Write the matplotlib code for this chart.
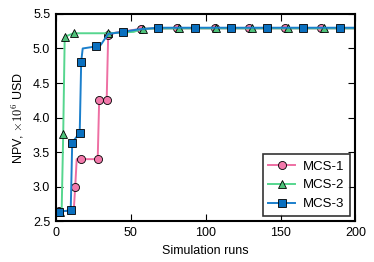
import numpy as np
import matplotlib
matplotlib.use("Agg")
import matplotlib.pyplot as plt

plt.rcParams['font.family'] = ['Liberation Sans', 'DejaVu Sans']
plt.rcParams['mathtext.fontset'] = 'cm'
plt.rcParams['font.size'] = 9

# best-so-far NPV curves (simulation run, NPV x 1e6 USD)
mcs1_runs = [2, 12, 13, 14, 17, 28, 29, 34, 35, 40, 57, 81, 106, 129, 153, 177, 200]
mcs1_npv = [2.65, 2.65, 3.00, 3.40, 3.40, 3.40, 4.26, 4.26, 5.19, 5.23, 5.285, 5.29, 5.29, 5.29, 5.29, 5.29, 5.29]
mcs1_marked = [2, 13, 17, 28, 29, 34, 35, 57, 81, 106, 129, 153, 177]

mcs2_runs = [3, 4, 5, 6, 12, 35, 52, 58, 82, 107, 131, 155, 179, 200]
mcs2_npv = [2.64, 2.70, 3.77, 5.17, 5.22, 5.22, 5.24, 5.285, 5.29, 5.29, 5.29, 5.29, 5.29, 5.29]
mcs2_marked = [3, 5, 6, 12, 35, 58, 82, 107, 131, 155, 179]

mcs3_runs = [2, 10, 11, 16, 17, 18, 27, 30, 35, 45, 55, 68, 93, 117, 141, 165, 190, 200]
mcs3_npv = [2.64, 2.66, 3.64, 3.78, 4.81, 5.00, 5.03, 5.05, 5.21, 5.24, 5.275, 5.30, 5.30, 5.30, 5.30, 5.30, 5.30, 5.30]
mcs3_marked = [2, 10, 11, 16, 17, 27, 45, 68, 93, 117, 141, 165, 190]

labels = ['MCS-1', 'MCS-2', 'MCS-3']


def plot_curves():
    fig = plt.figure(figsize=(3.74, 2.62), dpi=100)
    ax = fig.add_axes([0.149, 0.155, 0.8015, 0.792])

    series = [
        (mcs1_runs, mcs1_npv, mcs1_marked, 'o', '#f279ab', '#ee6fa3'),
        (mcs2_runs, mcs2_npv, mcs2_marked, '^', '#4fc27a', '#56d68e'),
        (mcs3_runs, mcs3_npv, mcs3_marked, 's', '#0a70c0', '#1b7fcc'),
    ]
    for (runs, npv, marked, mk, face, line), label in zip(series, labels):
        idx = [i for i, r in enumerate(runs) if r in marked]
        ax.plot(runs, npv, color=line, lw=1.4, marker=mk, markevery=idx,
                markersize=5.8, markerfacecolor=face, markeredgecolor='black',
                markeredgewidth=0.6, label=label)

    ax.set_xlim(0, 200)
    ax.set_ylim(2.5, 5.5)
    ax.set_xticks([0, 50, 100, 150, 200])
    ax.set_yticks(np.arange(2.5, 5.51, 0.5))
    ax.yaxis.set_major_formatter(matplotlib.ticker.FormatStrFormatter('%.1f'))
    ax.tick_params(direction='in', top=True, right=True, length=5, width=0.8,
                   pad=4, labelsize=9)
    for spine in ax.spines.values():
        spine.set_linewidth(1.5)

    ax.set_xlabel('Simulation runs', fontsize=9, labelpad=4)
    ax.set_ylabel(r'NPV, $\times10^6$ USD', fontsize=9, labelpad=5)

    leg = ax.legend(loc='lower right', fontsize=9.5, frameon=True, fancybox=False,
                    handlelength=2.0, handletextpad=0.6, borderpad=0.45,
                    labelspacing=0.5, borderaxespad=0.4)
    leg.get_frame().set_edgecolor('black')
    leg.get_frame().set_linewidth(1.2)

    fig.savefig('out.png', dpi=100, facecolor='white')
    plt.close(fig)


if __name__ == "__main__":
    plot_curves()
